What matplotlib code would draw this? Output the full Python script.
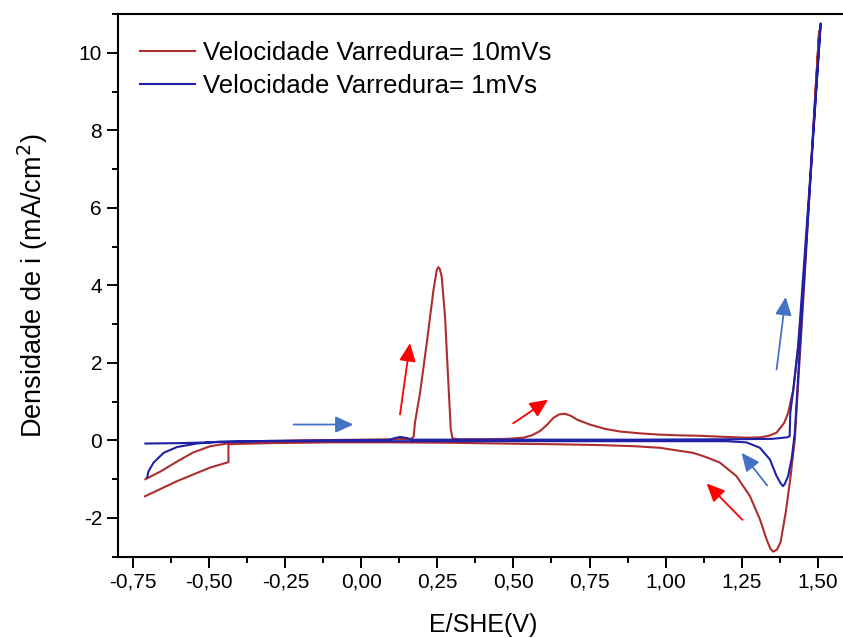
import matplotlib.pyplot as plt
from matplotlib.ticker import MultipleLocator, FuncFormatter

plt.rcParams['font.family'] = ['Liberation Sans', 'DejaVu Sans']
plt.rcParams['axes.unicode_minus'] = False

# 10 mV/s cycle: forward scan then reverse scan (E in V, i in mA/cm2)
red_fwd_E = [-0.71, -0.66, -0.605, -0.553, -0.497, -0.441, -0.389, -0.30, -0.20, -0.10,
             0.00, 0.10, 0.165, 0.172, 0.176, 0.193, 0.215, 0.237, 0.248, 0.253,
             0.258, 0.264, 0.275, 0.286, 0.294, 0.300, 0.32, 0.40, 0.48, 0.532,
             0.56, 0.587, 0.61, 0.631, 0.65, 0.669, 0.69, 0.708, 0.751, 0.80,
             0.85, 0.92, 0.98, 1.05, 1.113, 1.20, 1.27, 1.31, 1.34, 1.365,
             1.39, 1.403, 1.42, 1.436, 1.452, 1.478, 1.505]
red_fwd_i = [-1.00, -0.80, -0.54, -0.31, -0.15, -0.08, -0.05, -0.02, 0.00, 0.01,
             0.02, 0.03, 0.04, 0.10, 0.45, 1.23, 2.51, 3.88, 4.40, 4.47,
             4.42, 4.23, 3.20, 1.48, 0.28, 0.05, 0.03, 0.03, 0.04, 0.07,
             0.13, 0.24, 0.40, 0.58, 0.67, 0.69, 0.63, 0.54, 0.41, 0.30,
             0.23, 0.18, 0.15, 0.13, 0.12, 0.09, 0.07, 0.08, 0.12, 0.20,
             0.45, 0.71, 1.31, 2.43, 3.9, 7.0, 10.57]
red_rev_E = [1.505, 1.48, 1.457, 1.44, 1.425, 1.41, 1.395, 1.378, 1.366, 1.354,
             1.345, 1.332, 1.31, 1.277, 1.233, 1.178, 1.13, 1.09, 0.981, 0.90,
             0.784, 0.65, 0.50, 0.29, 0.10, -0.10, -0.30, -0.40, -0.437, -0.437,
             -0.497, -0.606, -0.711]
red_rev_i = [10.57, 7.3, 4.2, 2.0, 0.03, -1.00, -1.86, -2.63, -2.82, -2.87,
             -2.80, -2.55, -2.03, -1.43, -0.92, -0.57, -0.42, -0.32, -0.19, -0.15,
             -0.12, -0.10, -0.085, -0.06, -0.05, -0.05, -0.07, -0.09, -0.10, -0.56,
             -0.70, -1.05, -1.44]

# 1 mV/s cycle
blue_fwd_E = [-0.71, -0.60, -0.50, -0.40, -0.30, -0.15, 0.00, 0.09, 0.105, 0.127,
              0.15, 0.167, 0.30, 0.60, 0.90, 1.20, 1.35, 1.40, 1.408, 1.41,
              1.42, 1.436, 1.473, 1.51]
blue_fwd_i = [-0.08, -0.07, -0.05, -0.03, -0.01, 0.00, 0.01, 0.01, 0.05, 0.09,
              0.06, 0.02, 0.02, 0.02, 0.02, 0.03, 0.04, 0.08, 0.11, 0.71,
              1.31, 2.43, 6.5, 10.76]
blue_rev_E = [1.51, 1.48, 1.452, 1.437, 1.425, 1.415, 1.403, 1.392, 1.386, 1.378,
              1.365, 1.343, 1.31, 1.266, 1.20, 0.90, 0.50, 0.00, -0.30, -0.464,
              -0.541, -0.606, -0.65, -0.683, -0.70, -0.704]
blue_rev_i = [10.76, 7.2, 3.7, 1.8, 0.2, -0.45, -0.92, -1.12, -1.18, -1.10,
              -0.92, -0.49, -0.19, -0.05, -0.02, -0.02, -0.02, -0.02, -0.02, -0.03,
              -0.08, -0.17, -0.32, -0.57, -0.80, -0.95]

# scan-direction arrows: (tail E, tail i, head E, head i)
red_arrows = [(0.127, 0.67, 0.16, 2.51),
              (0.499, 0.44, 0.614, 1.05),
              (1.253, -2.05, 1.135, -1.11)]
blue_arrows = [(-0.223, 0.41, -0.026, 0.41),
               (1.365, 1.83, 1.395, 3.70),
               (1.334, -1.16, 1.25, -0.32)]

fig = plt.figure(figsize=(8.43, 6.38), dpi=100)
ax = fig.add_axes([0.14, 0.1274, 0.866, 0.8506])

red = '#ad2e2e'
blue = '#2020a8'
ax.plot(red_fwd_E + red_rev_E, red_fwd_i + red_rev_i, color=red, lw=1.5,
        label='Velocidade Varredura= 10mVs')
ax.plot(blue_fwd_E + blue_rev_E, blue_fwd_i + blue_rev_i, color=blue, lw=1.5,
        label='Velocidade Varredura= 1mVs')

for arrows, c in [(red_arrows, '#ff0000'), (blue_arrows, '#4472c4')]:
    for x0, y0, x1, y1 in arrows:
        ax.annotate('', xy=(x1, y1), xytext=(x0, y0),
                    arrowprops=dict(arrowstyle='-|>,head_length=0.55,head_width=0.25',
                                    mutation_scale=20, color=c, lw=1.3,
                                    shrinkA=0, shrinkB=0))

ax.set_xlim(-0.8, 1.6)
ax.set_ylim(-3, 11)
ax.xaxis.set_major_locator(MultipleLocator(0.25))
ax.xaxis.set_minor_locator(MultipleLocator(0.125))
ax.yaxis.set_major_locator(MultipleLocator(2))
ax.yaxis.set_minor_locator(MultipleLocator(1))
ax.xaxis.set_major_formatter(FuncFormatter(lambda v, p: f'{v:.2f}'.replace('.', ',')))
ax.tick_params(which='major', length=8, width=1.4, labelsize=15, direction='out')
ax.tick_params(which='minor', length=4.5, width=1.4, direction='out')
ax.tick_params(top=False, right=False, which='both')
for s in ax.spines.values():
    s.set_linewidth(1.5)

ax.set_xlabel('E/SHE(V)', fontsize=18, labelpad=15)
ax.set_ylabel('Densidade de i (mA/cm$^2$)', fontsize=19.5, labelpad=21)

ax.legend(loc='upper left', bbox_to_anchor=(140 / 843, 1 - 41 / 638),
          bbox_transform=fig.transFigure, frameon=False, fontsize=18.5,
          handlelength=2.15, handletextpad=0.31, labelspacing=0.35,
          borderpad=0, borderaxespad=0)

fig.savefig('out.png', dpi=100)
